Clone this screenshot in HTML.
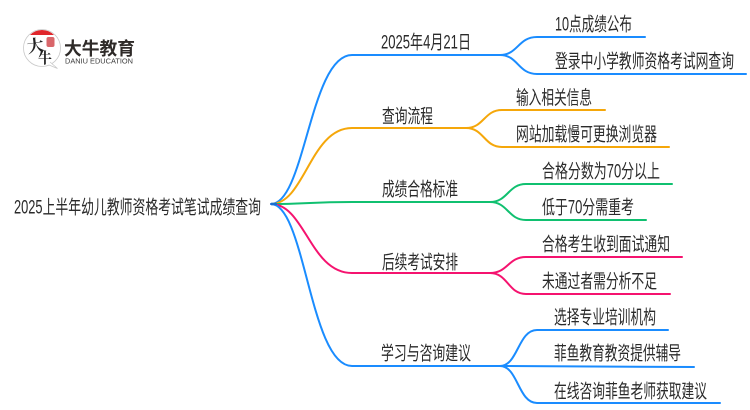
<!DOCTYPE html>
<html><head><meta charset="utf-8"><style>
html,body{margin:0;padding:0;background:#fff;width:750px;height:410px;overflow:hidden}
svg{display:block}
text{font-family:"Liberation Sans","Noto Sans CJK SC",sans-serif;font-size:19px;fill:#2a2a2a}
.c{fill:none;stroke-width:2;stroke-linecap:round}
</style></head><body>
<svg width="750" height="410" viewBox="0 0 750 410" xmlns="http://www.w3.org/2000/svg">
<!-- logo -->
<circle cx="42" cy="48" r="18.500" fill="#fff" stroke="#c9c9c9" stroke-width="0.8"/>
<path d="M30 35 Q35 30 42 30 Q49 30 54 35 Z" fill="#e0262b"/>
<path d="M50 62 L57.500 68.500 L49 65" fill="#fff" stroke="#c9c9c9" stroke-width="0.8"/>
<rect x="46.500" y="37" width="8" height="10" rx="2" fill="#d9666a"/>
<text x="27" y="52" textLength="17" lengthAdjust="spacingAndGlyphs" style="font-family:'Noto Serif CJK SC',serif;font-size:17px;font-weight:700;fill:#222" transform="rotate(-8 35 46)">大</text>
<text x="38" y="63" textLength="14" lengthAdjust="spacingAndGlyphs" style="font-family:'Noto Serif CJK SC',serif;font-size:15px;font-weight:700;fill:#222">牛</text>
<text x="64" y="55" textLength="71" lengthAdjust="spacingAndGlyphs" style="font-size:18px;font-weight:700;fill:#2e2a28">大牛教育</text>
<text x="65" y="63.500" textLength="68" lengthAdjust="spacingAndGlyphs" style="font-size:7.500px;fill:#3a3a3a">DANIU EDUCATION</text>
<!-- connectors -->
<path class="c" stroke="#1a8cff" d="M271 204 C305 204 310 55 352 55 L500 55"/>
<path class="c" stroke="#1a8cff" d="M500 55 C518 55 518 37 537 37 L645 37"/>
<path class="c" stroke="#1a8cff" d="M500 55 C518 55 518 74 537 74 L746 74"/>
<path class="c" stroke="#f5a70a" d="M271 204 C305 204 310 128 352 128 L466 128"/>
<path class="c" stroke="#f5a70a" d="M466 128 C484 128 484 110 502 110 L605 110"/>
<path class="c" stroke="#f5a70a" d="M466 128 C484 128 484 147 502 147 L669 147"/>
<path class="c" stroke="#10c070" d="M271 204 C305 204 310 202 352 202 L490 202"/>
<path class="c" stroke="#10c070" d="M490 202 C508 202 508 184 526 184 L672 184"/>
<path class="c" stroke="#10c070" d="M490 202 C508 202 508 220 526 220 L646 220"/>
<path class="c" stroke="#f5136f" d="M271 204 C305 204 310 273 352 273 L490 273"/>
<path class="c" stroke="#f5136f" d="M490 273 C508 273 508 257 526 257 L682 257"/>
<path class="c" stroke="#f5136f" d="M490 273 C508 273 508 294 526 294 L670 294"/>
<path class="c" stroke="#1a8cff" d="M271 204 C305 204 310 366 352 366 L500 366"/>
<path class="c" stroke="#1a8cff" d="M500 366 C518 366 518 330 537 330 L668 330"/>
<path class="c" stroke="#1a8cff" d="M500 366 L694 367"/>
<path class="c" stroke="#1a8cff" d="M500 366 C518 366 518 403 537 403 L720 403"/>
<path d="M271 204 L277 204" stroke="#1a6fd0" stroke-width="2.600" fill="none"/>
<!-- labels -->
<text x="14" y="213.500" textLength="247" lengthAdjust="spacingAndGlyphs">2025上半年幼儿教师资格考试笔试成绩查询</text>
<text x="381" y="48.500" textLength="90" lengthAdjust="spacingAndGlyphs">2025年4月21日</text>
<text x="382" y="122.500" textLength="51" lengthAdjust="spacingAndGlyphs">查询流程</text>
<text x="382" y="195.500" textLength="76" lengthAdjust="spacingAndGlyphs">成绩合格标准</text>
<text x="382" y="268.500" textLength="76" lengthAdjust="spacingAndGlyphs">后续考试安排</text>
<text x="381" y="359.500" textLength="90" lengthAdjust="spacingAndGlyphs">学习与咨询建议</text>
<text x="555" y="30.500" textLength="77" lengthAdjust="spacingAndGlyphs">10点成绩公布</text>
<text x="555" y="67.500" textLength="179" lengthAdjust="spacingAndGlyphs">登录中小学教师资格考试网查询</text>
<text x="516" y="104" textLength="76" lengthAdjust="spacingAndGlyphs">输入相关信息</text>
<text x="516" y="140.500" textLength="141" lengthAdjust="spacingAndGlyphs">网站加载慢可更换浏览器</text>
<text x="542" y="177.500" textLength="118" lengthAdjust="spacingAndGlyphs">合格分数为70分以上</text>
<text x="542" y="213.500" textLength="92" lengthAdjust="spacingAndGlyphs">低于70分需重考</text>
<text x="542" y="250.500" textLength="128" lengthAdjust="spacingAndGlyphs">合格考生收到面试通知</text>
<text x="542" y="287.500" textLength="115" lengthAdjust="spacingAndGlyphs">未通过者需分析不足</text>
<text x="554" y="323.500" textLength="102" lengthAdjust="spacingAndGlyphs">选择专业培训机构</text>
<text x="554" y="359.500" textLength="127" lengthAdjust="spacingAndGlyphs">菲鱼教育教资提供辅导</text>
<text x="554" y="397.500" textLength="153" lengthAdjust="spacingAndGlyphs">在线咨询菲鱼老师获取建议</text>
</svg>
</body></html>
